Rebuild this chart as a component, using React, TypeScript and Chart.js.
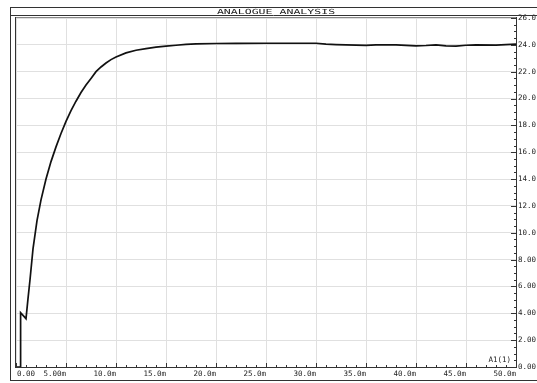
import React, { useEffect, useRef } from "react";
import { Chart, registerables } from "chart.js";

Chart.register(...registerables);

// time in ms
const times = [
  0, 0.45, 0.46, 1.0, 1.2, 1.4, 1.7, 2.1, 2.5, 3.0, 3.5, 4.0, 4.5, 5.0, 5.5, 6.0, 6.5, 7.0, 7.5, 8.0,
  8.5, 9.0, 9.5, 10.0, 11.0, 12.0, 13.0, 14.0, 15.0, 16.0, 17.0, 18.0, 20, 22, 25, 28, 30, 31, 32, 34,
  35, 36, 38, 40, 41, 42, 43, 44, 45, 46, 48, 50,
];
const values = [
  0, 0, 4.05, 3.6, 5.1, 6.5, 8.8, 10.9, 12.45, 14.0, 15.3, 16.4, 17.4, 18.3, 19.1, 19.8, 20.45, 21.0, 21.5, 22.0,
  22.35, 22.65, 22.9, 23.1, 23.4, 23.6, 23.72, 23.83, 23.9, 23.97, 24.03, 24.07, 24.1, 24.11, 24.12, 24.12, 24.12, 24.05, 24.02, 23.98,
  23.96, 24.0, 24.0, 23.93, 23.95, 24.0, 23.92, 23.9, 23.97, 24.0, 23.98, 24.05,
];
const xTickValues = [0, 5, 10, 15, 20, 25, 30, 35, 40, 45, 50];
const xTickLabels = ["0.00", "5.00m", "10.0m", "15.0m", "20.0m", "25.0m", "30.0m", "35.0m", "40.0m", "45.0m", "50.0m"];
const yTickLabels = ["0.00", "2.00", "4.00", "6.00", "8.00", "10.0", "12.0", "14.0", "16.0", "18.0", "20.0", "22.0", "24.0", "26.0"];
const titleText = "ANALOGUE ANALYSIS";
const traceLabel = "A1(1)";

const FONT = '"DejaVu Sans Mono", monospace';

const framePlugin = {
  id: "frame",
  beforeDraw(chart: any) {
    const ctx = chart.ctx;
    ctx.save();
    ctx.fillStyle = "#ffffff";
    ctx.fillRect(0, 0, chart.width, chart.height);
    ctx.restore();
  },
  afterDraw(chart: any) {
    const { ctx, chartArea, scales } = chart;
    const { left, right, top, bottom } = chartArea;
    const xs = scales.x;
    const ys = scales.y;
    const line = (x1: number, y1: number, x2: number, y2: number) => {
      ctx.beginPath();
      ctx.moveTo(x1, y1);
      ctx.lineTo(x2, y2);
      ctx.stroke();
    };
    ctx.save();
    ctx.lineWidth = 1;
    // outer frame
    ctx.strokeStyle = "#333";
    ctx.strokeRect(10.5, 7.5, 560, 373);
    line(10, 15.5, chart.width, 15.5);
    // plot borders
    ctx.strokeStyle = "#888";
    line(left, top - 0.5, right, top - 0.5);
    ctx.strokeStyle = "#333";
    line(left - 0.5, top - 1, left - 0.5, bottom + 1);
    line(right + 0.5, top - 1, right + 0.5, bottom + 1);
    line(left - 1, bottom + 0.5, right + 1, bottom + 0.5);
    // x ticks
    for (let t = 0; t <= 50; t += 1) {
      const px = Math.round(xs.getPixelForValue(t)) + 0.5;
      const len = t % 5 === 0 ? 4 : 2;
      line(px, bottom, px, bottom - len);
    }
    // y ticks
    for (let v = 0; v <= 26.001; v += 0.5) {
      const py = Math.round(ys.getPixelForValue(v)) + 0.5;
      const major = Math.abs(v / 2 - Math.round(v / 2)) < 1e-6;
      const len = major ? 5 : 2;
      line(right, py, right - len, py);
    }
    // x labels
    ctx.fillStyle = "#222";
    ctx.font = `7.5px ${FONT}`;
    ctx.textBaseline = "alphabetic";
    xTickValues.forEach((t, i) => {
      const px = xs.getPixelForValue(t);
      if (i === 0) {
        ctx.textAlign = "left";
        ctx.fillText(xTickLabels[i], px + 1, bottom + 9);
      } else {
        ctx.textAlign = "right";
        ctx.fillText(xTickLabels[i], px, bottom + 9);
      }
    });
    // trace label
    ctx.textAlign = "right";
    ctx.fillText(traceLabel, right - 5, bottom - 5);
    // title
    ctx.save();
    ctx.translate(276, 13.5);
    ctx.scale(1.65, 1);
    ctx.textAlign = "center";
    ctx.textBaseline = "alphabetic";
    ctx.font = `7px ${FONT}`;
    ctx.fillText(titleText, 0, 0);
    ctx.restore();
    ctx.restore();
  },
};

export default function App() {
  const ref = useRef<HTMLCanvasElement | null>(null);
  useEffect(() => {
    if (!ref.current) return;
    const data = times.map((t, i) => ({ x: t, y: values[i] }));
    const chart = new Chart(ref.current, {
      type: "line",
      data: {
        datasets: [
          {
            data,
            borderColor: "#111",
            borderWidth: 1.7,
            pointRadius: 0,
            tension: 0,
            fill: false,
          },
        ],
      },
      options: {
        responsive: false,
        animation: false,
        devicePixelRatio: 1,
        layout: { padding: { left: 16, top: 18, right: 0, bottom: 0 } },
        plugins: { legend: { display: false }, tooltip: { enabled: false }, title: { display: false } },
        scales: {
          x: {
            type: "linear",
            min: 0,
            max: 50,
            position: "bottom",
            ticks: { display: false, stepSize: 5 },
            grid: { color: "#e0e0e0", lineWidth: 1, drawTicks: false },
            border: { display: false },
            afterFit: (s: any) => {
              s.height = 16;
            },
          },
          y: {
            type: "linear",
            min: 0,
            max: 26,
            position: "right",
            ticks: {
              stepSize: 2,
              padding: 2,
              color: "#222",
              font: { family: FONT, size: 7.5 },
              callback: (v: any) => yTickLabels[Math.round(Number(v) / 2)] ?? "",
            },
            grid: { color: "#e0e0e0", lineWidth: 1, drawTicks: false },
            border: { display: false },
            afterFit: (s: any) => {
              s.width = 21;
            },
          },
        },
      },
      plugins: [framePlugin],
    });
    return () => chart.destroy();
  }, []);
  return (
    <div style={{ position: "absolute", left: 0, top: 0, width: 537, height: 383 }}>
      <canvas ref={ref} width={537} height={383} style={{ display: "block" }} />
    </div>
  );
}
